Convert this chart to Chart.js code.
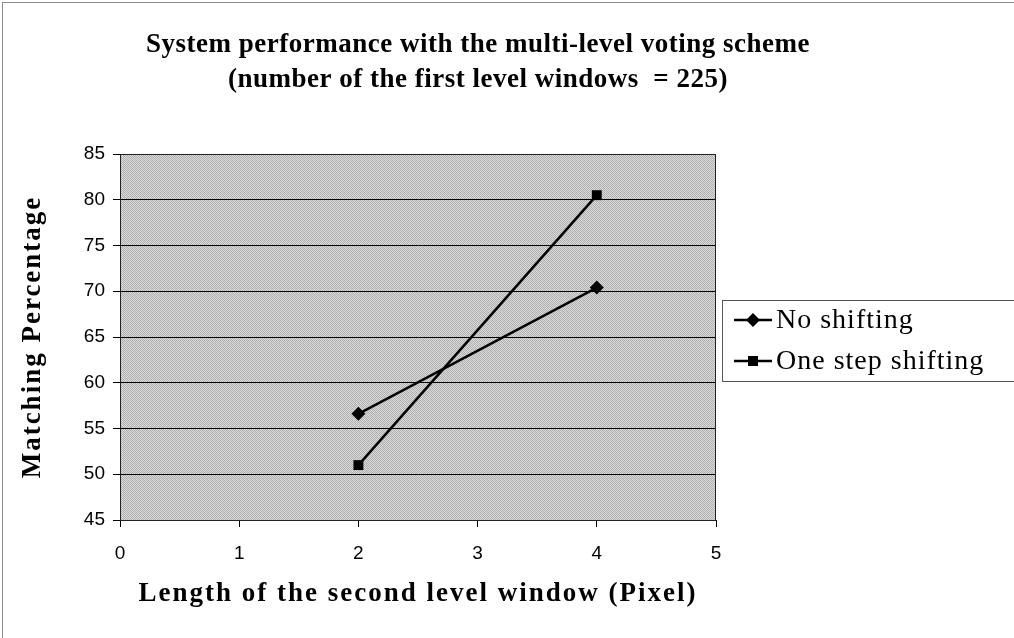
<!DOCTYPE html>
<html>
<head>
<meta charset="utf-8">
<script src="https://cdn.jsdelivr.net/npm/chart.js@4/dist/chart.umd.min.js"></script>
<style>
  html, body { margin: 0; padding: 0; background: #fff; }
  #wrap { width: 1014px; height: 638px; }
</style>
</head>
<body>
<div id="wrap"><canvas id="perfChart" width="1014" height="638"></canvas></div>
<script>
// window lengths on the x axis
var windowLengths = [2, 4];
// matching percentages for each scheme
var noShifting = [56.6, 70.4];
var oneStepShifting = [51.0, 80.5];
var seriesNames = ["No shifting", "One step shifting"];
var titleLines = ["System performance with the multi-level voting scheme", "(number of the first level windows  = 225)"];
var xTitle = "Length of the second level window (Pixel)";
var yTitle = "Matching Percentage";

var serif = "'Liberation Serif', 'Times New Roman', serif";
var sans = "'Liberation Sans', Arial, sans-serif";

function toPoints(xs, ys) {
    var pts = [];
    for (var i = 0; i < xs.length; i++) {
        pts.push({ x: xs[i], y: ys[i] });
    }
    return pts;
}

// grainy gray fill like the old spreadsheet plot area
function makeGrain() {
    var c = document.createElement("canvas");
    c.width = 4;
    c.height = 4;
    var g = c.getContext("2d");
    var shades = ["#aaaaaa", "#dcdcdc", "#b6b6b6", "#d3d3d3",
                  "#d8d8d8", "#aeaeae", "#dedede", "#b2b2b2",
                  "#b4b4b4", "#d6d6d6", "#acacac", "#dadada",
                  "#dcdcdc", "#b8b8b8", "#d5d5d5", "#afafaf"];
    for (var i = 0; i < 16; i++) {
        g.fillStyle = shades[i];
        g.fillRect(i % 4, Math.floor(i / 4), 1, 1);
    }
    return c;
}
var grain = makeGrain();

var backdrop = {
    id: "backdrop",
    beforeDraw: function (chart) {
        var ctx = chart.ctx;
        var a = chart.chartArea;
        ctx.save();
        // outer frame
        ctx.strokeStyle = "#8c8c8c";
        ctx.lineWidth = 1;
        ctx.strokeRect(2.5, 2.5, chart.width + 10, chart.height + 10);
        ctx.fillStyle = ctx.createPattern(grain, "repeat");
        ctx.fillRect(a.left, a.top, a.right - a.left, a.bottom - a.top);
        ctx.restore();
    },
    afterDraw: function (chart) {
        var ctx = chart.ctx;
        var a = chart.chartArea;
        ctx.save();
        ctx.strokeStyle = "#222";
        ctx.lineWidth = 1;
        ctx.strokeRect(a.left + 0.5, a.top + 0.5, a.right - a.left - 1, a.bottom - a.top);

        // chart title
        ctx.fillStyle = "#000";
        ctx.font = "bold 27px " + serif;
        ctx.letterSpacing = "0.5px";
        ctx.textAlign = "center";
        ctx.textBaseline = "middle";
        ctx.fillText(titleLines[0], 478, 45);
        ctx.fillText(titleLines[1], 478, 80);

        // axis titles
        ctx.letterSpacing = "2px";
        ctx.fillText(xTitle, (a.left + a.right) / 2, 594);
        ctx.save();
        ctx.translate(33, (a.top + a.bottom) / 2);
        ctx.rotate(-Math.PI / 2);
        ctx.fillText(yTitle, 0, 0);
        ctx.restore();

        // legend box
        var lx = 722, ly = 300, lw = 300, lh = 81;
        ctx.strokeStyle = "#555";
        ctx.lineWidth = 1;
        ctx.strokeRect(lx + 0.5, ly + 0.5, lw, lh);
        var ds = chart.data.datasets;
        ctx.font = "28px " + serif;
        ctx.letterSpacing = "1px";
        ctx.textAlign = "left";
        for (var i = 0; i < ds.length; i++) {
            var cy = ly + 20 + i * 41;
            ctx.strokeStyle = "#000";
            ctx.lineWidth = 2.5;
            ctx.beginPath();
            ctx.moveTo(lx + 12, cy);
            ctx.lineTo(lx + 50, cy);
            ctx.stroke();
            ctx.fillStyle = "#000";
            var cx = lx + 31;
            if (ds[i].pointStyle === "rectRot") {
                ctx.beginPath();
                ctx.moveTo(cx, cy - 7);
                ctx.lineTo(cx + 7, cy);
                ctx.lineTo(cx, cy + 7);
                ctx.lineTo(cx - 7, cy);
                ctx.closePath();
                ctx.fill();
            } else {
                ctx.fillRect(cx - 5, cy - 5, 10, 10);
            }
            ctx.fillText(ds[i].label, lx + 54, cy + 1);
        }
        ctx.restore();
    }
};

new Chart(document.getElementById("perfChart"), {
    type: "line",
    data: {
        datasets: [{
            label: seriesNames[0],
            data: toPoints(windowLengths, noShifting),
            borderColor: "#000",
            backgroundColor: "#000",
            borderWidth: 2.5,
            pointStyle: "rectRot",
            pointRadius: 7,
            pointBorderWidth: 0,
            fill: false,
            tension: 0
        }, {
            label: seriesNames[1],
            data: toPoints(windowLengths, oneStepShifting),
            borderColor: "#000",
            backgroundColor: "#000",
            borderWidth: 2.5,
            pointStyle: "rect",
            pointRadius: 7,
            pointBorderWidth: 0,
            fill: false,
            tension: 0
        }]
    },
    options: {
        responsive: false,
        animation: false,
        layout: { padding: { left: 0, right: 298, top: 154, bottom: 0 } },
        plugins: {
            legend: { display: false },
            title: { display: false },
            tooltip: { enabled: false }
        },
        scales: {
            x: {
                type: "linear",
                min: 0,
                max: 5,
                ticks: { stepSize: 1, color: "#000", padding: 15, font: { family: sans, size: 19 } },
                grid: { drawOnChartArea: false, drawTicks: true, tickLength: 7, color: "#000" },
                border: { display: true, color: "#000", width: 1 },
                afterFit: function (scale) { scale.height = 118; }
            },
            y: {
                min: 45,
                max: 85,
                ticks: { stepSize: 5, color: "#000", padding: 8, font: { family: sans, size: 19 } },
                grid: { drawOnChartArea: true, drawTicks: true, tickLength: 7, color: "#000", lineWidth: 1 },
                border: { display: true, color: "#000", width: 1 },
                afterFit: function (scale) { scale.width = 120; }
            }
        }
    },
    plugins: [backdrop]
});
</script>
</body>
</html>
